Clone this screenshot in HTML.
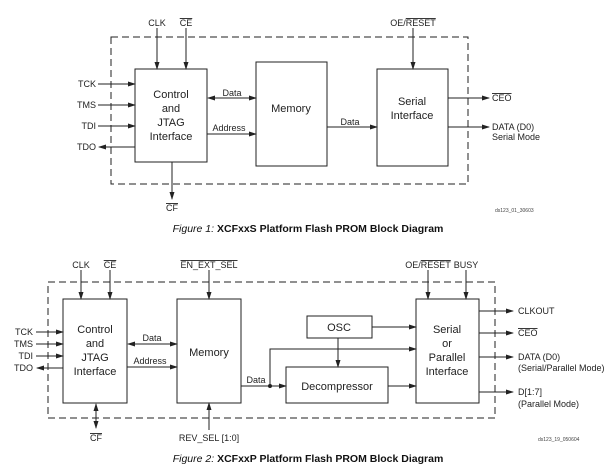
<!DOCTYPE html>
<html><head><style>
html,body{margin:0;padding:0;background:#fff;}
svg{display:block;font-family:"Liberation Sans",Arial,sans-serif;}
</style></head><body>
<svg width="615" height="468" viewBox="0 0 615 468" xmlns="http://www.w3.org/2000/svg">
<defs>
<marker id="a" markerWidth="8" markerHeight="6" refX="7" refY="3" orient="auto" markerUnits="userSpaceOnUse"><path d="M0,0.5 L8,3 L0,5.5 z" fill="#222"/></marker>
<marker id="s" markerWidth="8" markerHeight="6" refX="1" refY="3" orient="auto" markerUnits="userSpaceOnUse"><path d="M8,0.5 L0,3 L8,5.5 z" fill="#222"/></marker>
</defs>
<g stroke="#222" stroke-width="1" fill="none">
<rect x="111" y="37" width="357" height="147" stroke-dasharray="7,4"/>
<rect x="135" y="69" width="72" height="93" fill="#fff"/>
<rect x="256" y="62" width="71" height="104" fill="#fff"/>
<rect x="377" y="69" width="71" height="97" fill="#fff"/>
<line x1="157" y1="28" x2="157" y2="69" marker-end="url(#a)"/>
<line x1="186" y1="28" x2="186" y2="69" marker-end="url(#a)"/>
<line x1="413" y1="28" x2="413" y2="69" marker-end="url(#a)"/>
<line x1="98" y1="84" x2="135" y2="84" marker-end="url(#a)"/>
<line x1="98" y1="105" x2="135" y2="105" marker-end="url(#a)"/>
<line x1="98" y1="126" x2="135" y2="126" marker-end="url(#a)"/>
<line x1="135" y1="147" x2="99" y2="147" marker-end="url(#a)"/>
<line x1="208" y1="98" x2="256" y2="98" marker-start="url(#s)" marker-end="url(#a)"/>
<line x1="207" y1="134" x2="256" y2="134" marker-end="url(#a)"/>
<line x1="327" y1="127" x2="377" y2="127" marker-end="url(#a)"/>
<line x1="172" y1="162" x2="172" y2="199" marker-end="url(#a)"/>
<line x1="448" y1="98" x2="489" y2="98" marker-end="url(#a)"/>
<line x1="448" y1="127" x2="489" y2="127" marker-end="url(#a)"/>
<rect x="48" y="282" width="447" height="136" stroke-dasharray="7,4"/>
<rect x="63" y="299" width="64" height="104" fill="#fff"/>
<rect x="177" y="299" width="64" height="104" fill="#fff"/>
<rect x="307" y="316" width="65" height="22" fill="#fff"/>
<rect x="286" y="367" width="102" height="36" fill="#fff"/>
<rect x="416" y="299" width="63" height="104" fill="#fff"/>
<line x1="81" y1="270" x2="81" y2="299" marker-end="url(#a)"/>
<line x1="110" y1="270" x2="110" y2="299" marker-end="url(#a)"/>
<line x1="209" y1="270" x2="209" y2="299" marker-end="url(#a)"/>
<line x1="428" y1="270" x2="428" y2="299" marker-end="url(#a)"/>
<line x1="466" y1="270" x2="466" y2="299" marker-end="url(#a)"/>
<line x1="209" y1="430" x2="209" y2="403" marker-end="url(#a)"/>
<line x1="96" y1="404" x2="96" y2="428" marker-start="url(#s)" marker-end="url(#a)"/>
<line x1="36" y1="332" x2="63" y2="332" marker-end="url(#a)"/>
<line x1="36" y1="344" x2="63" y2="344" marker-end="url(#a)"/>
<line x1="36" y1="356" x2="63" y2="356" marker-end="url(#a)"/>
<line x1="63" y1="368" x2="37" y2="368" marker-end="url(#a)"/>
<line x1="128" y1="344" x2="177" y2="344" marker-start="url(#s)" marker-end="url(#a)"/>
<line x1="127" y1="367" x2="177" y2="367" marker-end="url(#a)"/>
<line x1="241" y1="386" x2="286" y2="386" marker-end="url(#a)"/>
<polyline points="270,386 270,349 416,349" marker-end="url(#a)"/>
<line x1="372" y1="327" x2="416" y2="327" marker-end="url(#a)"/>
<line x1="338" y1="338" x2="338" y2="367" marker-end="url(#a)"/>
<line x1="388" y1="386" x2="416" y2="386" marker-end="url(#a)"/>
<line x1="479" y1="311" x2="513" y2="311" marker-end="url(#a)"/>
<line x1="479" y1="333" x2="513" y2="333" marker-end="url(#a)"/>
<line x1="479" y1="357" x2="513" y2="357" marker-end="url(#a)"/>
<line x1="479" y1="392" x2="513" y2="392" marker-end="url(#a)"/>
</g>
<circle cx="270" cy="386" r="2" fill="#222"/>
<g font-size="9" fill="#222">
<text x="157" y="26" text-anchor="middle">CLK</text>
<text x="186" y="26" text-anchor="middle" text-decoration="overline">CE</text>
<text x="413" y="26" text-anchor="middle">OE/<tspan text-decoration="overline">RESET</tspan></text>
<text x="96" y="87" text-anchor="end">TCK</text>
<text x="96" y="108" text-anchor="end">TMS</text>
<text x="96" y="129" text-anchor="end">TDI</text>
<text x="96" y="150" text-anchor="end">TDO</text>
<text x="232" y="96" text-anchor="middle">Data</text>
<text x="229" y="131" text-anchor="middle">Address</text>
<text x="350" y="125" text-anchor="middle">Data</text>
<text x="172" y="211" text-anchor="middle" text-decoration="overline">CF</text>
<text x="492" y="101" text-decoration="overline">CEO</text>
<text x="492" y="130">DATA (D0)</text>
<text x="492" y="140">Serial Mode</text>
<text x="81" y="268" text-anchor="middle">CLK</text>
<text x="110" y="268" text-anchor="middle" text-decoration="overline">CE</text>
<text x="209" y="268" text-anchor="middle" text-decoration="overline">EN_EXT_SEL</text>
<text x="428" y="268" text-anchor="middle">OE/<tspan text-decoration="overline">RESET</tspan></text>
<text x="466" y="268" text-anchor="middle">BUSY</text>
<text x="33" y="335" text-anchor="end">TCK</text>
<text x="33" y="347" text-anchor="end">TMS</text>
<text x="33" y="359" text-anchor="end">TDI</text>
<text x="33" y="371" text-anchor="end">TDO</text>
<text x="152" y="341" text-anchor="middle">Data</text>
<text x="150" y="364" text-anchor="middle">Address</text>
<text x="256" y="383" text-anchor="middle">Data</text>
<text x="96" y="441" text-anchor="middle" text-decoration="overline">CF</text>
<text x="209" y="441" text-anchor="middle">REV_SEL [1:0]</text>
<text x="518" y="314">CLKOUT</text>
<text x="518" y="336" text-decoration="overline">CEO</text>
<text x="518" y="360">DATA (D0)</text>
<text x="518" y="371">(Serial/Parallel Mode)</text>
<text x="518" y="395">D[1:7]</text>
<text x="518" y="407">(Parallel Mode)</text>
</g>
<g font-size="11" fill="#222" text-anchor="middle">
<text x="171" y="98">Control</text>
<text x="171" y="112">and</text>
<text x="171" y="126">JTAG</text>
<text x="171" y="140">Interface</text>
<text x="291" y="112">Memory</text>
<text x="412" y="105">Serial</text>
<text x="412" y="119">Interface</text>
<text x="95" y="333">Control</text>
<text x="95" y="347">and</text>
<text x="95" y="361">JTAG</text>
<text x="95" y="375">Interface</text>
<text x="209" y="356">Memory</text>
<text x="339" y="331">OSC</text>
<text x="337" y="390">Decompressor</text>
<text x="447" y="333">Serial</text>
<text x="447" y="347">or</text>
<text x="447" y="361">Parallel</text>
<text x="447" y="375">Interface</text>
</g>
<text x="495" y="212" font-size="5" fill="#444">ds123_01_30603</text>
<text x="538" y="441" font-size="5" fill="#444">ds123_19_050604</text>
<text x="308" y="232" font-size="10.5" font-weight="bold" fill="#111" text-anchor="middle"><tspan font-style="italic" font-weight="normal">Figure 1:</tspan>  XCFxxS Platform Flash PROM Block Diagram</text>
<text x="308" y="462" font-size="10.5" font-weight="bold" fill="#111" text-anchor="middle"><tspan font-style="italic" font-weight="normal">Figure 2:</tspan>  XCFxxP Platform Flash PROM Block Diagram</text>
</svg>
</body></html>
